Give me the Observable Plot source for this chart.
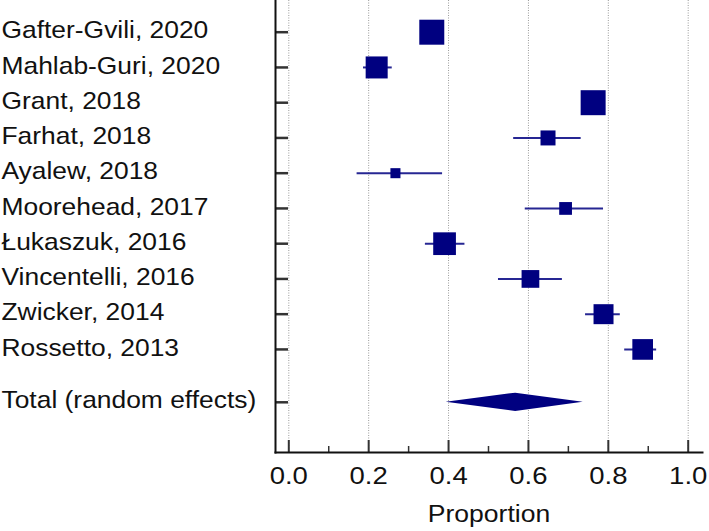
<!DOCTYPE html>
<html><head><meta charset="utf-8">
<script src="https://cdn.jsdelivr.net/npm/d3@7"></script>
<script src="https://cdn.jsdelivr.net/npm/@observablehq/plot@0.6"></script>
<style>html,body{margin:0;padding:0;background:#fff}</style>
</head><body><div id="chart"></div>
<script>
const studies = ["Gafter-Gvili, 2020","Mahlab-Guri, 2020","Grant, 2018","Farhat, 2018","Ayalew, 2018","Moorehead, 2017","Łukaszuk, 2016","Vincentelli, 2016","Zwicker, 2014","Rossetto, 2013"];
const proportion = [0.358, 0.220, 0.762, 0.649, 0.267, 0.693, 0.390, 0.605, 0.788, 0.886];
const lower      = [0.335, 0.187, 0.740, 0.563, 0.171, 0.592, 0.342, 0.525, 0.743, 0.841];
const upper      = [0.385, 0.259, 0.785, 0.732, 0.385, 0.788, 0.441, 0.685, 0.830, 0.921];
const weights    = [16.1, 12.5, 16.1, 5.8, 2.6, 4.2, 13.3, 8.1, 10.3, 11.0];
const totalLabel = "Total (random effects)";
const totalEstimate = 0.568, totalLower = 0.394, totalUpper = 0.737;
const majorTicks = [0, 0.2, 0.4, 0.6, 0.8, 1.0];
const minorTicks = [0.1, 0.3, 0.5, 0.7, 0.9];
const axisLabel = "Proportion";

const rows = studies.map((s, i) => ({label: s, pos: i, p: proportion[i], lo: lower[i], hi: upper[i], w: weights[i]}));
const totalPos = studies.length + 0.5;
const dh = 0.26;
const diamond = [
  {x: totalLower, y1: totalPos, y2: totalPos},
  {x: totalEstimate, y1: totalPos - dh, y2: totalPos + dh},
  {x: totalUpper, y1: totalPos, y2: totalPos}
];
const labelRows = [...rows.map(r => ({label: r.label, pos: r.pos})), {label: totalLabel, pos: totalPos}];
const navy = "#000080";
const ink = "#111";

const chart = Plot.plot({
  width: 709, height: 531,
  marginLeft: 275, marginRight: 7, marginTop: 0, marginBottom: 79,
  style: {fontFamily: "'Liberation Sans', Arial, sans-serif", background: "#fff", color: ink},
  x: {domain: [0, 1], range: [288.3, 687.7]},
  y: {domain: [0, totalPos], range: [31.7, 401.8], axis: null},
  r: {type: "sqrt", domain: [0, d3.max(weights)], range: [0, 14.1]},
  marks: [
    Plot.gridX(majorTicks, {stroke: "#9a9a9a", strokeOpacity: 1, strokeDasharray: "1,1.5"}),
    Plot.ruleY(rows, {y: "pos", x1: "lo", x2: "hi", stroke: navy, strokeWidth: 2, strokeOpacity: 0.85}),
    Plot.dot(rows, {x: "p", y: "pos", r: "w", symbol: "square", fill: navy}),
    Plot.areaY(diamond, {x: "x", y1: "y1", y2: "y2", fill: navy, curve: "linear"}),
    Plot.tickY(labelRows, {y: "pos", insetRight: 414, stroke: "#333", strokeWidth: 2.5}),
    Plot.tickX(majorTicks, {x: d => d, insetTop: 440, stroke: "#333", strokeWidth: 2}),
    Plot.tickX(minorTicks, {x: d => d, insetTop: 446, stroke: "#333", strokeWidth: 1.5}),
    Plot.frame({anchor: "left", stroke: ink, strokeWidth: 2}),
    Plot.frame({anchor: "bottom", stroke: ink, strokeWidth: 2}),
    Plot.axisX(majorTicks, {tickSize: 0, tickPadding: 15, tickFormat: d3.format(".1f"), fontSize: 23.5, fill: ink, label: null, className: "xtick"}),
    Plot.text([axisLabel], {text: d => d, frameAnchor: "bottom", lineAnchor: "bottom", dy: 69.7, fontSize: 23.5, fill: ink, className: "xlabel"}),
    Plot.text(labelRows, {y: "pos", text: "label", frameAnchor: "left", textAnchor: "start", dx: -274, dy: -1.5, fontSize: 24, fill: ink, className: "ylabel"})
  ]
});
document.getElementById("chart").appendChild(chart);

function stretch(sel, S) {
  chart.querySelectorAll(sel).forEach(t => {
    const bb = t.getBBox();
    const anchor = getComputedStyle(t).textAnchor;
    const x0 = anchor === "start" ? bb.x : anchor === "end" ? bb.x + bb.width : bb.x + bb.width / 2;
    const tr = t.getAttribute("transform") || "";
    t.setAttribute("transform", `${tr} translate(${x0},0) scale(${S},1) translate(${-x0},0)`);
  });
}
stretch(".xtick text", 1.17);
stretch(".xlabel text", 1.13);
stretch(".ylabel text", 1.1);
</script>
</body></html>
